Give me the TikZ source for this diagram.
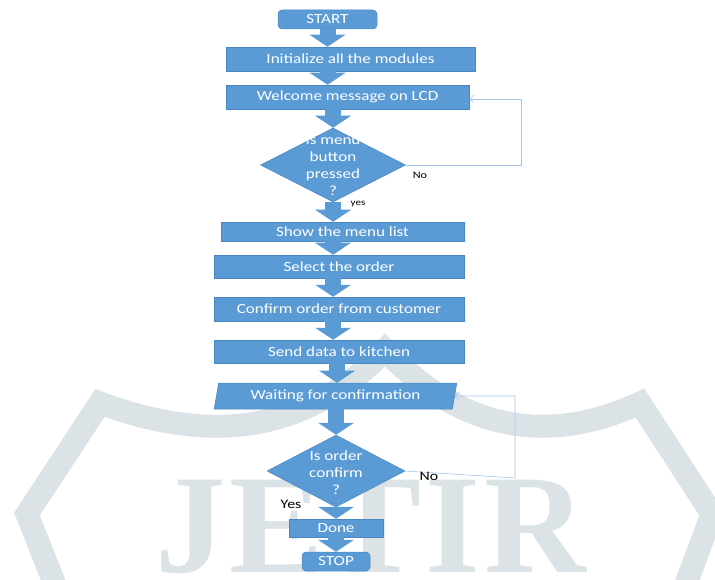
\documentclass[tikz,border=0pt]{standalone}
\usepackage{fontspec}
\setmainfont{Carlito}[FakeStretch=1.22]
\newfontfamily\wmfont{Liberation Serif}
\usetikzlibrary{arrows.meta,shapes.geometric,calc}
\definecolor{boxblue}{HTML}{5B9BD5}
\definecolor{boxedge}{HTML}{4A86C0}
\definecolor{fbline}{HTML}{A3C4E6}
\definecolor{wmgray}{HTML}{DCE3E7}
\begin{document}
\begin{tikzpicture}[x=1pt,y=-1pt,
  box/.style={rectangle, fill=boxblue, draw=boxedge, line width=0.5pt, text=white,
    font=\fontsize{14}{17}\selectfont, inner sep=0pt, align=center},
  term/.style={box, rounded corners=4pt},
  dec/.style={diamond, fill=boxblue, draw=boxedge, line width=0.5pt, inner sep=0pt},
  dtext/.style={text=white, font=\fontsize{14}{17}\selectfont, align=center, inner sep=0pt},
  para/.style={trapezium, trapezium left angle=75, trapezium right angle=105,
    trapezium stretches=true, fill=boxblue, draw=boxedge, line width=0.5pt, text=white,
    font=\fontsize{14}{17}\selectfont, inner sep=0pt, minimum width=243, minimum height=26},
  blockarrow/.style={draw=boxblue, line width=16pt,
    -{Triangle[width=36pt,length=12pt,line width=0pt]}},
  fb/.style={draw=fbline, line width=0.6pt, -{Straight Barb[length=4pt,width=8pt]}},
  lab/.style={text=black, inner sep=0pt}
]
\useasboundingbox (0,0) rectangle (715,580);
\clip (0,0) rectangle (715,580);
% watermark
\draw[wmgray, line width=23pt, line join=miter]
  (61,600) -- (27,514) -- (100,403) .. controls (200,440) and (300,440) .. (385,350)
  .. controls (470,440) and (560,440) .. (640,403) -- (712,514) -- (680,600);
\node[text=wmgray, font=\wmfont\bfseries\fontsize{141}{141}\selectfont, anchor=base west, inner sep=0pt] (wm) at (155,572) {J\kern4ptE\kern4ptT\kern4ptI\kern4ptR};
% columns
\coordinate (colC) at (333,0);
\coordinate (colD) at (337,0);
\coordinate (fb1) at (521,165);
\coordinate (fb2) at (515,478);
% nodes
\node[term, minimum width=99, minimum height=19] (start) at (327.5,19.5) {START};
\node[box, minimum width=249, minimum height=24] (init) at (350.5,59) {Initialize all the modules};
\node[box, minimum width=243, minimum height=24] (welcome) at (347.5,97) {Welcome message on LCD};
\node[dec, minimum width=145, minimum height=74] (d1) at (333,165) {};
\node[box, minimum width=243, minimum height=19] (show) at (342.5,231.5) {Show the menu list};
\node[box, minimum width=250, minimum height=23] (select) at (339,266.5) {Select the order};
\node[box, minimum width=250, minimum height=24] (confirm) at (339,309) {Confirm order from customer};
\node[box, minimum width=250, minimum height=23] (send) at (339,351.5) {Send data to kitchen};
\node[para] (wait) at (335.5,396) {Waiting for confirmation};
\node[dec, minimum width=138, minimum height=72] (d2) at (336,471) {};
\node[box, minimum width=94, minimum height=18] (done) at (336,528) {Done};
\node[term, minimum width=68, minimum height=19] (stop) at (336,561.5) {STOP};
% block arrows
\draw[blockarrow] (start.south) -- (start.south |- init.north);
\draw[blockarrow] (init.south -| start.south) -- (welcome.north -| start.south);
\draw[blockarrow] (welcome.south -| d1.north) -- (d1.north);
\draw[blockarrow] (d1.south) -- (d1.south |- show.north);
\draw[blockarrow] (show.south -| colC) -- (select.north -| colC);
\draw[blockarrow] (select.south -| colC) -- (confirm.north -| colC);
\draw[blockarrow] (confirm.south -| colC) -- (send.north -| colC);
\draw[blockarrow] (send.south -| colD) -- (wait.north -| colD);
\draw[blockarrow] (wait.south -| d2.north) -- (d2.north);
\draw[blockarrow] (d2.south) -- (d2.south |- done.north);
\draw[blockarrow] (done.south) -- (done.south |- stop.north);
% decision texts
\node[dtext] (d1t) at (333,166) {Is menu\\button\\pressed\\?};
\node[dtext] (d2t) at (336,473) {Is order\\confirm\\?};
% feedback lines
\draw[fb] (d1.east) -- (fb1) |- ([yshift=-2pt]welcome.east);
\draw[fb] (d2.east) -- (fb2) |- (wait.east);
% labels
\node[lab, font=\fontsize{10}{12}\selectfont] (no1) at (420,175) {No};
\node[lab, font=\fontsize{9}{11}\selectfont] (yes1) at (358,204) {yes};
\node[lab, font=\fontsize{13}{15}\selectfont] (no2) at (429,476) {No};
\node[lab, font=\fontsize{13}{15}\selectfont] (yes2) at (291,504) {Yes};
\end{tikzpicture}
\end{document}
